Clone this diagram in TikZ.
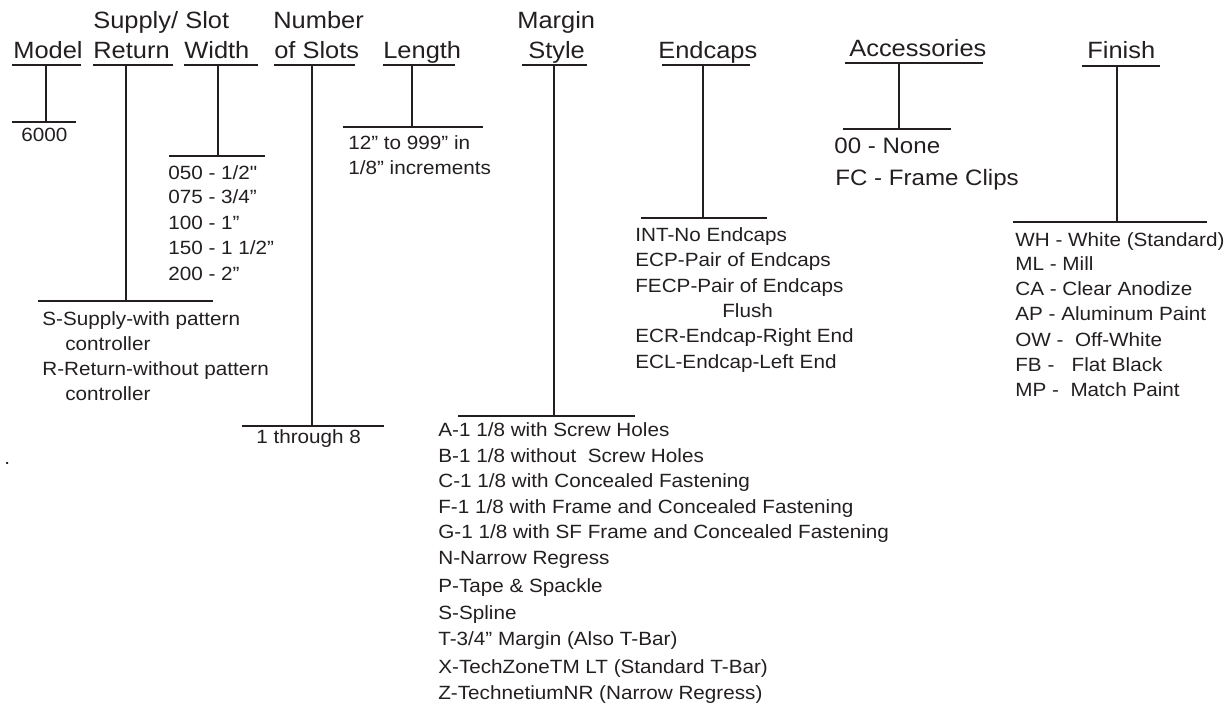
\documentclass[tikz,border=0pt]{standalone}
\usepackage{fontspec}
\setmainfont[FakeStretch=1.08, Ligatures=TeXOff]{Liberation Sans}
\usepackage{tikz}
\usetikzlibrary{positioning}
\definecolor{ink}{RGB}{35,31,32}
\tikzstyle{hdr} = [font=\fontsize{13.4}{16}\selectfont, text=ink, inner sep=0pt, anchor=base west]
\tikzstyle{item} = [font=\fontsize{10.9}{13}\selectfont, text=ink, inner sep=0pt, anchor=base west]
\tikzstyle{bigitem} = [font=\fontsize{12.7}{15}\selectfont, text=ink, inner sep=0pt, anchor=base west]
\tikzstyle{rule} = [draw=ink, line width=1.1pt]

\begin{document}
\begin{tikzpicture}[x=0.02cm, y=-0.02cm]
        \useasboundingbox (0,0) rectangle (1231,705);
        % headings
        \node[hdr] (model) at (13,59) {Model};
        \node[hdr] (supply) at (93,29) {Supply/};
        \node[hdr] (return) at (93,59) {Return};
        \node[hdr] (slot) at (185,29) {Slot};
        \node[hdr] (width) at (184,59) {Width};
        \node[hdr] (number) at (273,29) {Number};
        \node[hdr] (ofslots) at (274,59) {of Slots};
        \node[hdr] (length) at (383,59) {Length};
        \node[hdr] (margin) at (517,29) {Margin};
        \node[hdr] (style) at (528,59) {Style};
        \node[hdr] (endcaps) at (658,59) {Endcaps};
        \node[hdr] (access) at (849,57) {Accessories};
        \node[hdr] (finish) at (1087,59) {Finish};
        % underline, stem and bar of every column
        \foreach \n/\ua/\ub/\uy/\sx/\by/\ba/\bb in {
            md/12/81/65/46/122/12/76,
            sr/93/173/65/126/301/38/213,
            sw/184/258/65/218/156/169/265,
            ns/274/355/65/312/426/242/384,
            ln/383/455/65/412/127/343/483,
            ms/522/587/65/554/416/458/635,
            ec/662/750/65/703/218/641/767,
            ac/845/983/63/899/129/843/951,
            fn/1082/1160/66/1117/222/1013/1207} {
            \coordinate (\n-top) at (\sx,\uy);
            \coordinate (\n-bot) at (\sx,\by);
            \draw[rule] (\ua,\uy) -- (\ub,\uy);
            \draw[rule] (\n-top) -- (\n-bot);
            \draw[rule] (\ba,\by) -- (\bb,\by);
        }
        % choices
        \node[item] (md-1) at (21,142) {6000};
        \foreach [count=\i] \t/\x/\y in {{S-Supply-with pattern}/42/326, controller/65/351,
            {R-Return-without pattern}/42/376, controller/65/401}
            \node[item] (sr-\i) at (\x,\y) {\t};
        \foreach [count=\i] \t/\y in {{050 - 1/2"}/180, {075 - 3/4”}/204, {100 - 1”}/230,
            {150 - 1 1/2”}/255, {200 - 2”}/281}
            \node[item] (sw-\i) at (168,\y) {\t};
        \node[item] (ns-1) at (256,444) {1 through 8};
        \node[item] (ln-1) at (348,150) {12” to 999” in};
        \node[item] (ln-2) at (348,175) {1/8” increments};
        \foreach [count=\i] \t/\y in {{A-1 1/8 with Screw Holes}/437,
            {B-1 1/8 without\ \ Screw Holes}/463,
            {C-1 1/8 with Concealed Fastening}/488,
            {F-1 1/8 with Frame and Concealed Fastening}/514,
            {G-1 1/8 with SF Frame and Concealed Fastening}/539,
            {N-Narrow Regress}/565, {P-Tape \& Spackle}/593, {S-Spline}/620,
            {T-3/4” Margin (Also T-Bar)}/645,
            {X-TechZoneTM LT (Standard T-Bar)}/673,
            {Z-TechnetiumNR (Narrow Regress)}/700}
            \node[item] (ms-\i) at (438,\y) {\t};
        \foreach [count=\i] \t/\x/\y in {{INT-No Endcaps}/635/242, {ECP-Pair of Endcaps}/635/267,
            {FECP-Pair of Endcaps}/635/293, Flush/722/318,
            {ECR-Endcap-Right End}/635/343, {ECL-Endcap-Left End}/635/369}
            \node[item] (ec-\i) at (\x,\y) {\t};
        \node[bigitem] (ac-1) at (834,154) {00 - None};
        \node[bigitem] (ac-2) at (835,186) {FC - Frame Clips};
        \foreach [count=\i] \t/\y in {{WH - White (Standard)}/247, {ML - Mill}/271,
            {CA - Clear Anodize}/296, {AP - Aluminum Paint}/321,
            {OW -\ \ Off-White}/347, {FB -\ \ \ Flat Black}/372, {MP -\ \ Match Paint}/397}
            \node[item] (fn-\i) at (1015,\y) {\t};
        \node[item] (dot) at (4,465) {.};
\end{tikzpicture}
\end{document}
